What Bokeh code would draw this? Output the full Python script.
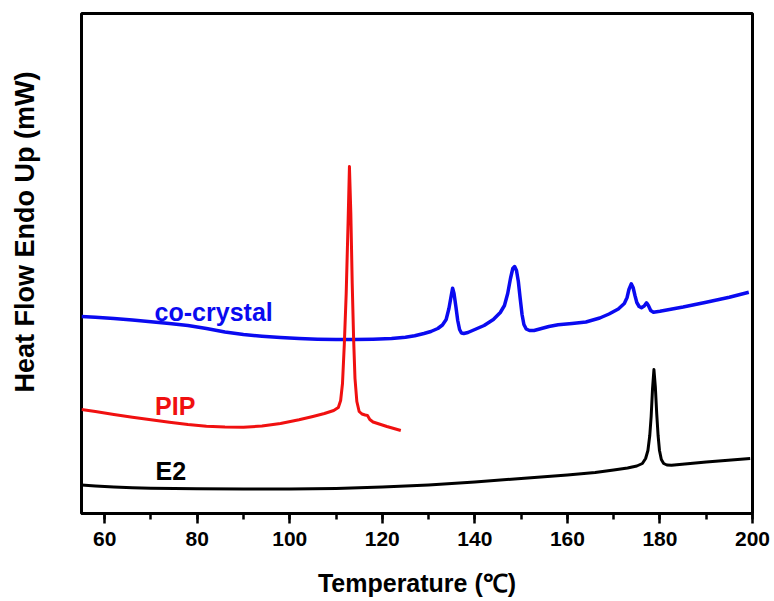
from bokeh.plotting import figure
from bokeh.models import (Range1d, SingleIntervalTicker, FixedTicker, Title,
                          ColumnDataSource)
from bokeh.core.properties import value
from bokeh.embed import file_html
from bokeh.resources import INLINE

# DSC traces: temperature (°C) and heat flow (arbitrary offset units, endo up)
e2_temp = [55, 58, 62, 66, 70, 80, 90, 100, 110, 120, 130, 140, 150, 160, 166, 170,
           173, 175, 176.2, 176.9, 177.4, 177.8, 178.1, 178.4, 178.7, 179.0, 179.3,
           179.6, 179.9, 180.3, 180.8, 181.5, 182.5, 190, 199.5]
e2_flow = [28.5, 27.5, 26.5, 25.8, 25.3, 24.8, 24.5, 24.5, 25, 26.5, 28.5, 31.5, 35,
           38.5, 41, 43.5, 45.5, 47.5, 50, 55, 63, 78, 97, 125, 144, 127, 100,
           78, 63, 54, 50, 48.5, 48.2, 51.5, 55]

pip_temp = [55, 58, 62, 66, 70, 74, 78, 82, 86, 90, 94, 98, 102, 105, 107.5, 109.5,
            110.5, 111.0, 111.4, 111.8, 112.2, 112.6, 112.9, 113.2, 113.5, 113.8,
            114.1, 114.5, 115.0, 115.6, 116.3, 116.8, 117.3, 118, 121, 124]
pip_flow = [104, 102, 99, 96.3, 93.7, 91.3, 89, 87.3, 86.5, 86.3, 87.5, 90, 93.7, 97,
            100, 103, 106, 113, 130, 170, 220, 290, 347, 300, 230, 175,
            135, 112, 102, 99.5, 98.5, 98, 94, 91.5, 87, 83]

cc_temp = [55, 58, 62, 66, 70, 74, 78, 82, 86, 90, 94, 98, 102, 106, 110, 114, 118,
           122, 125, 127, 129, 130.5, 132, 133, 133.8, 134.4, 134.9, 135.2, 135.5,
           135.9, 136.3, 136.7, 137.1, 137.6, 138.5, 140, 142, 144, 145.5, 146.4,
           147.1, 147.7, 148.2, 148.6, 149.0, 149.4, 149.8, 150.2, 150.6, 151.1,
           151.8, 152.8, 154, 156, 158, 161, 164, 167, 169, 171, 172.3, 172.9,
           173.3, 173.8, 174.2, 174.6, 175.0, 175.5, 176.0, 176.6, 177.1, 177.5,
           178.0, 178.6, 180, 185, 190, 195, 199.2]
cc_flow = [197, 196.3, 195, 193.5, 191.8, 190, 188, 185, 181.5, 179, 177.3, 176, 175,
           174.3, 174, 174, 174.3, 175, 176.3, 177.8, 180, 182, 185, 188.5, 194,
           205, 218, 225.3, 220, 207, 193, 184, 180.5, 180, 181, 184, 188, 194,
           201, 208, 220, 235, 245, 247, 243, 232, 215, 199, 189, 184.5,
           183, 183, 184.5, 187, 188.7, 190, 191.5, 195.5, 199.5, 204.5, 210, 216,
           224, 229.7, 226, 218, 211, 207, 205.8, 207.5, 210.7, 208,
           203, 201.3, 202.3, 206.5, 211.3, 216.3, 221.3]

series_names = ["co-crystal", "PIP", "E2"]
series_colors = ["#0a0af0", "#f01010", "#000000"]
label_temp = [70.8, 70.9, 71.0]
label_flow = [202, 108, 43]

x_ticks_interval = 20

p = figure(width=774, height=601, output_backend="svg", toolbar_location=None,
           x_range=Range1d(55, 200), y_range=Range1d(0, 500),
           min_border_left=81, min_border_right=22, min_border_top=13,
           min_border_bottom=88)
p.background_fill_color = "white"
p.border_fill_color = "white"
p.grid.visible = False
p.outline_line_color = "black"
p.outline_line_width = 3
p.outline_line_alpha = 1

# the left axis shows nothing; a single white tick (starting clear of the frame
# line) keeps a gap between the frame and the vertical title
ya = p.yaxis[0]
ya.ticker = FixedTicker(ticks=[20])
ya.major_label_overrides = {20: ""}
ya.axis_line_color = None
ya.major_tick_line_color = "white"
ya.major_tick_line_width = 1
ya.major_tick_in = -3
ya.major_tick_out = 41
ya.major_label_standoff = 0
ya.minor_tick_in = 0
ya.minor_tick_out = 0

xa = p.xaxis[0]
xa.ticker = SingleIntervalTicker(interval=x_ticks_interval, num_minor_ticks=2)
xa.axis_line_width = 3
xa.major_tick_line_width = 2.5
xa.minor_tick_line_width = 2.5
xa.major_tick_in = 0
xa.major_tick_out = 10
xa.minor_tick_in = 0
xa.minor_tick_out = 6
xa.major_label_standoff = 8
xa.major_label_text_font = "Liberation Sans"
xa.major_label_text_font_style = "bold"
xa.major_label_text_font_size = "21px"
xa.major_label_text_color = "black"
xa.axis_label = "Temperature (℃)"
xa.axis_label_text_font = "Liberation Sans"
xa.axis_label_text_font_style = "bold"
xa.axis_label_text_font_size = "25px"
xa.axis_label_text_color = "black"
xa.axis_label_standoff = 20

p.add_layout(Title(text="Heat Flow Endo Up (mW)", align="left", offset=121,
                   vertical_align="middle", standoff=0,
                   text_font="Liberation Sans", text_font_style="bold",
                   text_font_size="27px", text_color="black"), "left")

p.line(cc_temp, cc_flow, line_color=series_colors[0], line_width=3.5,
       line_join="round")
p.line(pip_temp, pip_flow, line_color=series_colors[1], line_width=3,
       line_join="round")
p.line(e2_temp, e2_flow, line_color=series_colors[2], line_width=3,
       line_join="round")

labels = ColumnDataSource(dict(x=label_temp, y=label_flow, text=series_names,
                               color=series_colors))
p.text(x="x", y="y", text="text", text_color="color", source=labels,
       text_font=value("Liberation Sans"), text_font_style="bold",
       text_font_size="25px", text_baseline="alphabetic", text_align="left")

open("out.html", "w").write(file_html(p, INLINE))
